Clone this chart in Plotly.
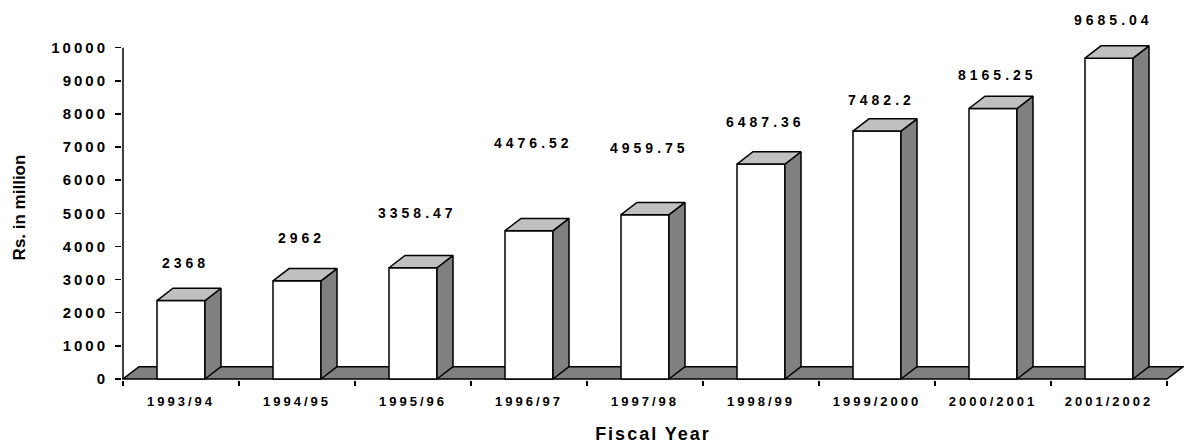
import plotly.graph_objects as go

# ---------------- data ----------------
categories = ["1993/94", "1994/95", "1995/96", "1996/97", "1997/98",
              "1998/99", "1999/2000", "2000/2001", "2001/2002"]
values = [2368, 2962, 3358.47, 4476.52, 4959.75, 6487.36, 7482.2, 8165.25, 9685.04]
value_labels = [f"{v:g}" for v in values]
y_tick_values = list(range(0, 10001, 1000))
y_tick_labels = [str(v) for v in y_tick_values]

# ---------------- layout / style ----------------
W, H = 1185, 447
label_offsets_px = [38, 43, 55, 88, 67, 42, 31, 33, 38]   # label height above bar front top
PX_PER_CAT = 116.0
PX_PER_UNIT = 331.3 / 10000.0
AXIS_X_PX = 123          # pixel of left axis
AXIS_Y_PX = 379          # pixel of y = 0
PLOT_TOP_PX = 35
PLOT_RIGHT_PX = 1184
DEPTH_X_PX, DEPTH_Y_PX = 16.0, 12.3
BAR_W_PX = 48.0

FONT = "Liberation Sans, Arial, sans-serif"
DARK = "#808080"
LIGHT = "#c0c0c0"
LW = 1.5

pos = list(range(len(categories)))
bw = BAR_W_PX / PX_PER_CAT
dx = DEPTH_X_PX / PX_PER_CAT
dy = DEPTH_Y_PX / PX_PER_UNIT
x_eps = 1.0 / PX_PER_CAT
y_eps = 1.0 / PX_PER_UNIT
x_lo = -0.5
x_hi = len(categories) - 0.5
x_range = [x_lo - x_eps, x_lo + (PLOT_RIGHT_PX - AXIS_X_PX) / PX_PER_CAT]
y_range = [-y_eps, (AXIS_Y_PX - PLOT_TOP_PX) / PX_PER_UNIT]

fig = go.Figure()

# front faces
fig.add_trace(go.Bar(
    x=pos, y=values, width=bw,
    marker=dict(color="white", line=dict(color="black", width=LW)),
    hoverinfo="skip",
))

# side faces
sx, sy = [], []
for p, v in zip(pos, values):
    xr = p + bw / 2
    sx += [xr, xr + dx, xr + dx, xr, xr, None]
    sy += [0, dy, v + dy, v, 0, None]
fig.add_trace(go.Scatter(x=sx, y=sy, mode="lines", fill="toself", fillcolor=DARK,
                         line=dict(color="black", width=LW), hoverinfo="skip"))

# top faces
tx, ty = [], []
for p, v in zip(pos, values):
    xl, xr = p - bw / 2, p + bw / 2
    tx += [xl, xl + dx, xr + dx, xr, xl, None]
    ty += [v, v + dy, v + dy, v, v, None]
fig.add_trace(go.Scatter(x=tx, y=ty, mode="lines", fill="toself", fillcolor=LIGHT,
                         line=dict(color="black", width=LW), hoverinfo="skip"))

# vertical axis line
fig.add_trace(go.Scatter(x=[x_lo, x_lo], y=[0, y_tick_values[-1]], mode="lines",
                         line=dict(color="black", width=LW), hoverinfo="skip"))

# floor
floor_path = (f"M {x_lo},0 L {x_hi},0 L {x_hi + dx},{dy} "
              f"L {x_lo + dx},{dy} Z")
fig.add_shape(type="path", path=floor_path, xref="x", yref="y", layer="below",
              fillcolor=DARK, line=dict(color="black", width=LW))

# value labels
for p, v, t, off in zip(pos, values, value_labels, label_offsets_px):
    fig.add_annotation(x=p, y=v, text=t, showarrow=False, yshift=off, xshift=4,
                       xanchor="center", yanchor="middle",
                       font=dict(family=FONT, size=14, color="black", weight="bold"))

fig.update_layout(
    width=W, height=H,
    margin=dict(l=AXIS_X_PX - 1, r=W - PLOT_RIGHT_PX, t=PLOT_TOP_PX,
                b=H - AXIS_Y_PX - 1, autoexpand=False),
    paper_bgcolor="white", plot_bgcolor="white",
    showlegend=False, hovermode=False,
    font=dict(family=FONT, color="black"),
    xaxis=dict(
        range=x_range, tickmode="array", tickvals=pos, ticktext=categories,
        ticks="", showline=False, showgrid=False, zeroline=False, automargin=False,
        tickfont=dict(family=FONT, size=13, weight="bold", color="black"),
        ticklabelstandoff=12,
        minor=dict(tickmode="array", tickvals=[p - 0.5 for p in pos] + [x_hi],
                   ticks="outside", ticklen=5, tickwidth=LW, tickcolor="black",
                   showgrid=False),
        title=dict(text="Fiscal Year", standoff=19,
                   font=dict(family=FONT, size=18, weight="bold", color="black")),
    ),
    yaxis=dict(
        range=y_range, tickmode="array", tickvals=y_tick_values, ticktext=y_tick_labels,
        ticks="outside", ticklen=6, tickwidth=LW, tickcolor="black",
        showline=False, showgrid=False, zeroline=False, automargin=False,
        ticklabelstandoff=4,
        tickfont=dict(family=FONT, size=15, weight="bold", color="black"),
        title=dict(text="Rs. in million", standoff=36,
                   font=dict(family=FONT, size=17, weight="bold", color="black")),
    ),
)

post = """
document.body.style.margin = '0';
document.body.style.padding = '0';
var gd = document.getElementById('{plot_id}');
function sp(sel, v){ gd.querySelectorAll(sel).forEach(function(e){ e.style.letterSpacing = v; }); }
sp('.xtick text', '3px');
sp('.ytick text', '3px');
sp('.annotation-text', '4px');
sp('.xtitle', '2px');
"""
fig.write_html("out.html", post_script=post,
               config={"displayModeBar": False, "staticPlot": True})
